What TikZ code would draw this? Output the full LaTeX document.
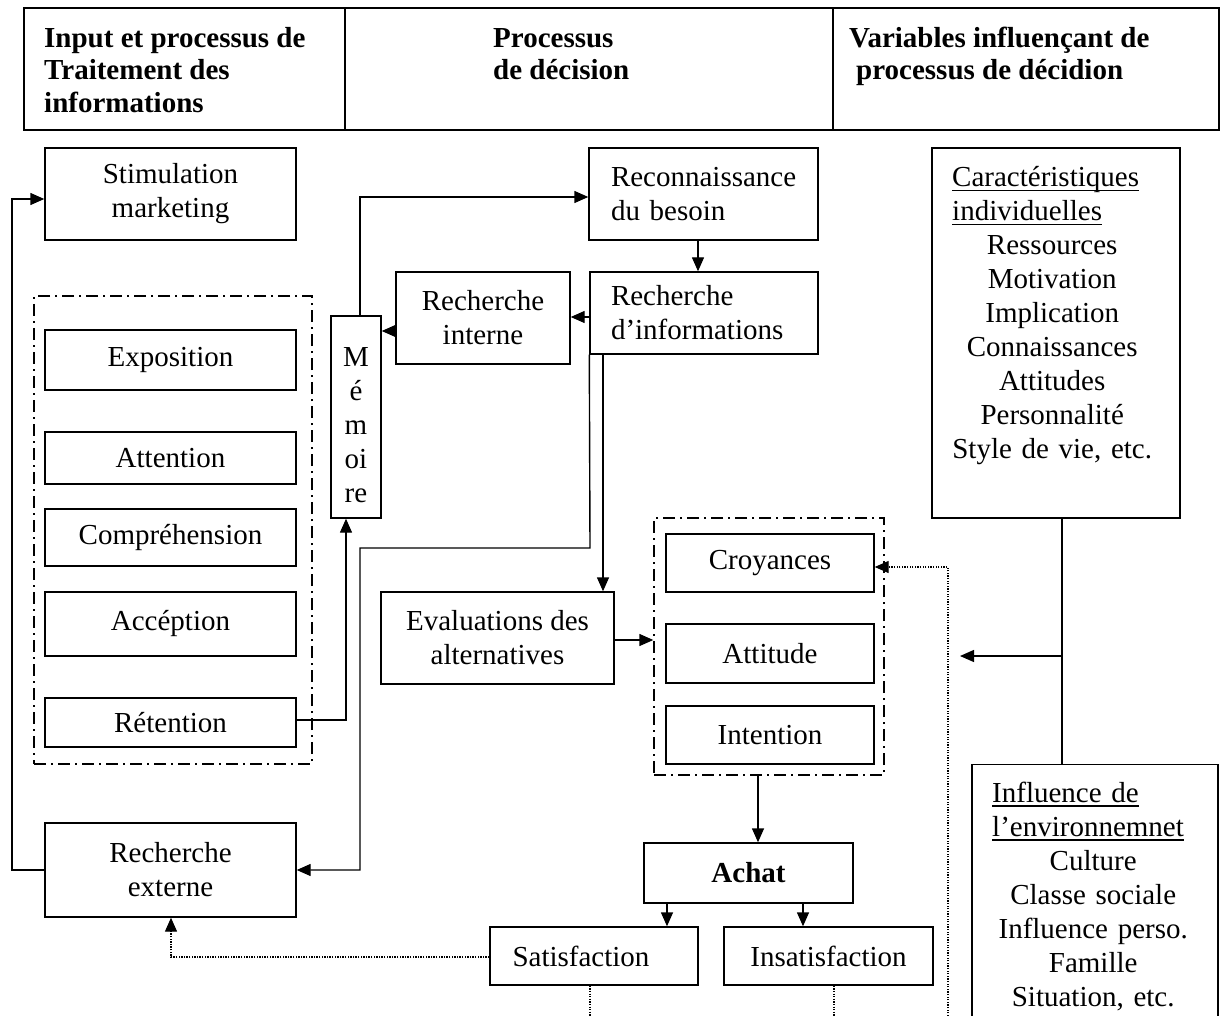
\documentclass[tikz,border=0pt]{standalone}
\usepackage{fontspec}
\setmainfont{Liberation Serif}
\usetikzlibrary{arrows.meta}
\frenchspacing

% underline drawn at a fixed offset below the baseline
\newcommand\ulin[1]{\leavevmode\setbox0\hbox{#1}\rlap{\rule[-4.5pt]{\wd0}{1.8pt}}\box0}

\tikzset{
  body/.style={font=\fontsize{29}{34}\selectfont},
  box/.style={draw, line width=1.4pt, inner sep=0pt, align=center, body},
  lbox/.style={box, align=left},
  grp/.style={draw, line width=1.4pt, inner sep=0pt, dash pattern=on 12pt off 5pt on 2pt off 5pt},
  cell/.style={draw, line width=2pt, inner sep=0pt, anchor=north west},
  hdr/.style={inner sep=0pt, anchor=north west, align=left, font=\fontsize{29}{32.5}\selectfont\bfseries},
  plain/.style={line width=1.4pt},
  link/.style={plain, -{Triangle[length=14pt,width=12pt]}},
  dots/.style={line width=1.3pt, dash pattern=on 1.3pt off 1.3pt},
  dotlink/.style={dots, -{Triangle[length=14pt,width=12pt]}},
}

\begin{document}
\begin{tikzpicture}[x=1pt,y=-1pt]
\useasboundingbox (0,0) rectangle (1231,1016);
\fill[white] (0,0) rectangle (1231,1016);

% ---------- header row ----------
\node[cell, minimum width=321pt, minimum height=122pt] (colA) at (23,7.5) {};
\node[cell, minimum width=488pt, minimum height=122pt] (colB) at (344,7.5) {};
\node[cell, minimum width=386pt, minimum height=122pt] (colC) at (832,7.5) {};
\node[hdr] (hA) at (44,24.3) {\strut Input et processus de\\Traitement des\\informations};
\node[hdr] (hB) at (493,24.3) {\strut Processus\\de décision};
\node[hdr] (hC) at (849,24.3) {\strut Variables influençant de\\\hspace*{7pt}processus de décidion};

% ---------- information processing column ----------
\node[box, minimum width=251pt, minimum height=92pt] (stim) at (170.5,194) {Stimulation\\marketing};
\node[grp, minimum width=278pt, minimum height=468pt] (lgrp) at (173,530) {};
\node[box, minimum width=251pt, minimum height=60pt] (expo) at (170.5,360) {Exposition};
\node[box, minimum width=251pt, minimum height=52pt] (attn) at (170.5,458) {Attention};
\node[box, minimum width=251pt, minimum height=57pt] (compr) at (170.5,537.5) {Compréhension};
\node[box, minimum width=251pt, minimum height=64pt] (accep) at (170.5,624) {Accéption};
\node[box, minimum width=251pt, minimum height=49pt] (reten) at (170.5,722.5) {Rétention};
\node[box, minimum width=251pt, minimum height=94pt] (rext) at (170.5,870) {Recherche\\externe};

% memory
\node[box, minimum width=50pt, minimum height=202pt] (mem) at (356,417) {};
\node[inner sep=0pt, align=center, body] (memtxt) at (356,425) {M\\é\\m\\oi\\re};

% ---------- decision process column ----------
\node[lbox, minimum width=229pt, minimum height=92pt, text width=185pt] (reco) at (703.5,194) {Reconnaissance\\du besoin};
\node[lbox, minimum width=228pt, minimum height=82pt, text width=186pt] (rinfo) at (704,313) {Recherche\\d’informations};
\node[box, minimum width=174pt, minimum height=92pt] (rint) at (483,318) {Recherche\\interne};
\node[box, minimum width=233pt, minimum height=92pt] (eval) at (497.5,638) {Evaluations des\\alternatives};
\node[grp, minimum width=230pt, minimum height=257pt] (rgrp) at (769,646.5) {};
\node[box, minimum width=208pt, minimum height=58pt] (croy) at (770,563) {Croyances};
\node[box, minimum width=208pt, minimum height=59pt] (atti) at (770,653.5) {Attitude};
\node[box, minimum width=208pt, minimum height=58pt] (inten) at (770,735) {Intention};
\node[box, minimum width=209pt, minimum height=60pt] (achat) at (748.5,873) {\bfseries Achat};
\node[box, minimum width=208pt, minimum height=58pt] (satis) at (594,956) {Satisfaction\hspace*{26pt}};
\node[box, minimum width=209pt, minimum height=58pt] (insat) at (828.5,956) {Insatisfaction};

% ---------- influencing variables column ----------
\node[box, minimum width=248pt, minimum height=370pt] (carac) at (1056,333) {};
\node[inner sep=0pt, anchor=north west, text width=200pt, body] (caractxt) at (952,163)
  {\raggedright\strut\ulin{Caractéristiques}\par\ulin{individuelles}\par
   \centering Ressources\par Motivation\par Implication\par Connaissances\par
   Attitudes\par Personnalité\par Style de vie, etc.\par};
\node[box, anchor=north, minimum width=246pt, minimum height=270pt] (infl) at (1095,764) {};
\node[inner sep=0pt, anchor=north west, text width=202pt, body] (infltxt) at (992,778.5)
  {\raggedright\strut\ulin{Influence de}\par\ulin{l’environnemnet}\par
   \centering Culture\par Classe sociale\par Influence perso.\par Famille\par
   Situation, etc.\par};

% ---------- bend points ----------
\coordinate (mtop) at (360,197);
\coordinate (b1) at (590,548);
\coordinate (b2) at (360,548);
\coordinate (b3) at (360,870);
\coordinate (rt) at (346,720);
\coordinate (le1) at (12,870);
\coordinate (le2) at (12,199);
\coordinate (ev) at (603,400);
\coordinate (eg) at (630,640);
\coordinate (ri) at (480,317);
\coordinate (mi) at (400,331);
\coordinate (ac) at (758,810);
\coordinate (s1) at (667,910);
\coordinate (s2) at (803,910);
\coordinate (d1) at (171,957);
\coordinate (sb1) at (590,1016);
\coordinate (sb2) at (834,1016);
\coordinate (fb1) at (948,1016);
\coordinate (fb2) at (948,567);
\coordinate (vc) at (1062,656);
\coordinate (vt) at (960,656);

% ---------- connectors ----------
\draw[link] (reco.south -| 698,0) -- (rinfo.north -| 698,0);
\draw[link] (rinfo.west |- ri) -- (rint.east |- ri);
\draw[link] (rint.west |- mi) -- (mem.east |- mi);
\draw[link] (mem.north -| mtop) -- (mtop) -- (reco.west |- mtop);
\draw[link] (rinfo.south west) -- (b1) -- (b2) -- (b3) -- (rext.east |- b3);
\draw[link] (rinfo.south -| ev) -- (eval.north -| ev);
\draw[link] (reten.east |- rt) -- (rt) -- (mem.south -| rt);
\draw[link] (rext.west |- le1) -- (le1) -- (le2) -- (stim.west |- le2);
\draw[link] (eval.east |- eg) -- (rgrp.west |- eg);
\draw[link] (rgrp.south -| ac) -- (achat.north -| ac);
\draw[link] (achat.south -| s1) -- (satis.north -| s1);
\draw[link] (achat.south -| s2) -- (insat.north -| s2);
\draw[dotlink] (satis.west |- d1) -- (d1) -- (rext.south -| d1);
\draw[dots] (satis.south -| sb1) -- (sb1);
\draw[dots] (insat.south -| sb2) -- (sb2);
\draw[dotlink] (fb1) -- (fb2) -- (croy.east |- fb2);
\draw[plain] (carac.south -| vc) -- (infl.north -| vc);
\draw[link] (vc) -- (vt);
\end{tikzpicture}
\end{document}
